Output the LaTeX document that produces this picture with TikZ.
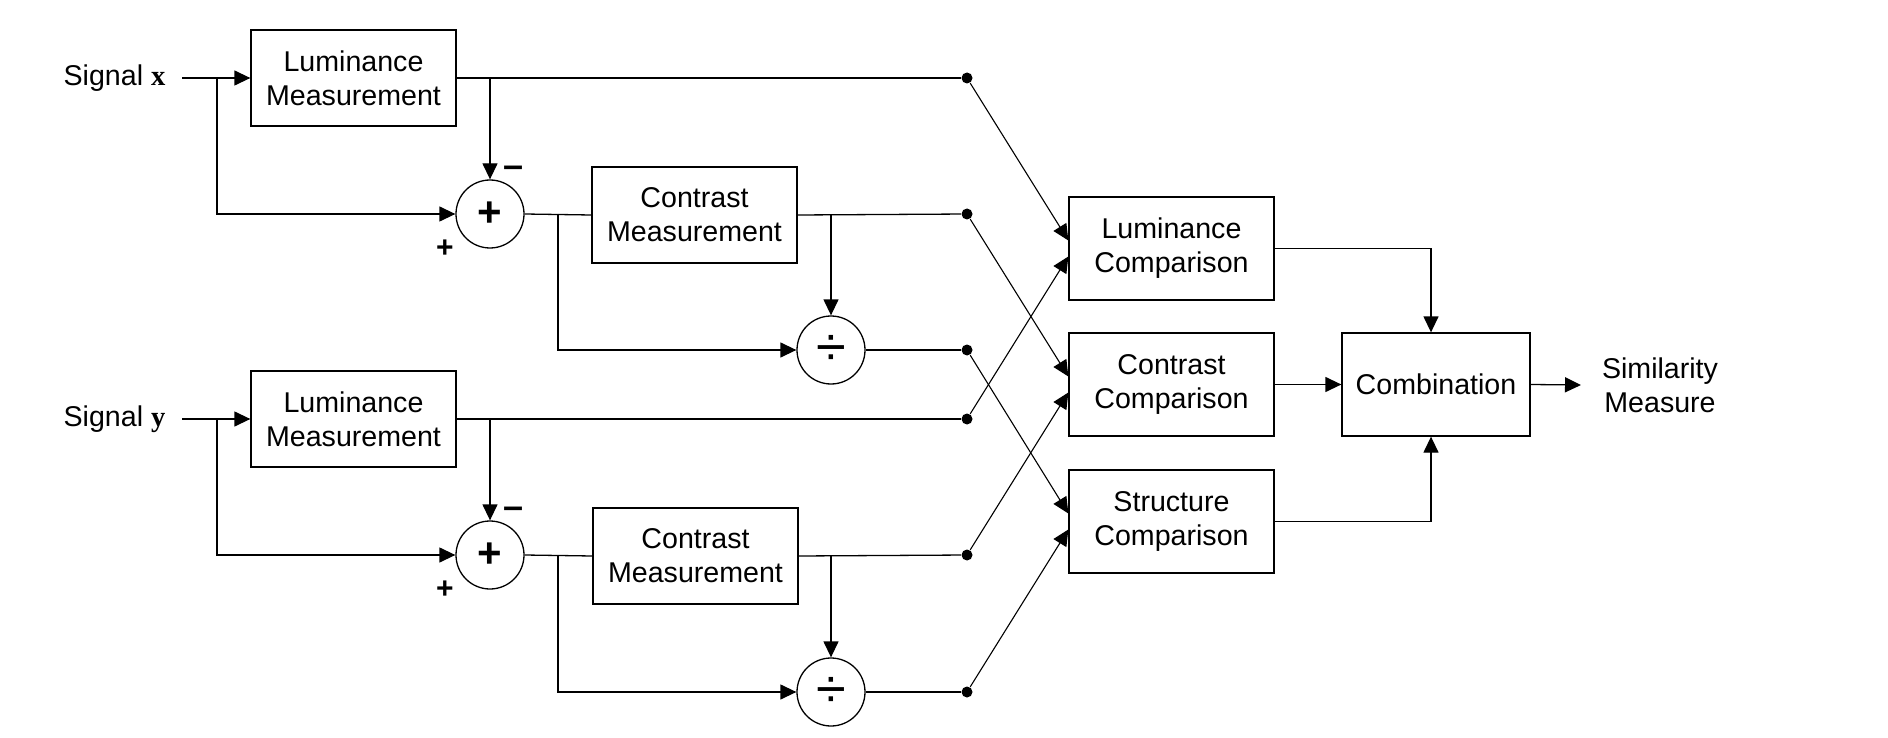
\documentclass[tikz,border=0pt]{standalone}
\usepackage{fontspec}
\setmainfont{Liberation Sans}
\newfontfamily\serifbold{Liberation Serif}[BoldFont={Liberation Serif Bold}]
\usetikzlibrary{arrows.meta,calc}
\begin{document}
\begin{tikzpicture}[x=1pt,y=-1pt,
  line width=1.3pt,
  >={Triangle[length=16pt 0 0,width=15pt 0 0]},
  blk/.style={draw,rectangle,minimum width=205pt,minimum height=96pt,inner sep=0pt,align=center,
    font=\fontsize{28.6}{34}\selectfont},
  cmp/.style={blk,minimum height=103pt},
  opc/.style={draw,circle,minimum size=68pt,inner sep=0pt},
  dotn/.style={circle,fill,minimum size=11pt,inner sep=0pt},
  lbl/.style={inner sep=0pt,outer xsep=17pt,font=\fontsize{28.6}{34}\selectfont},
  sgn/.style={inner sep=0pt,font=\fontsize{30}{30}\selectfont\bfseries},
  msgn/.style={inner sep=0pt,font=\fontsize{36}{36}\selectfont\bfseries},
  isum/.style={inner sep=0pt,font=\fontsize{42}{42}\selectfont\bfseries},
  idiv/.style={inner sep=0pt,font=\fontsize{54}{54}\selectfont},
]
\useasboundingbox (0,0) rectangle (1888,738);

% --- signal x branch ---
\node[lbl] (sx) at (114.5,78) {Signal {\serifbold\bfseries x}};
\node[blk] (lx) at (353.5,78) {Luminance\\Measurement};
\node[opc] (ax) at (490,214) {};
\node[isum] at (ax.center) {+};
\node[blk] (cx) at (694.5,215) {Contrast\\Measurement};
\node[opc] (dx) at (831,350) {};
\node[idiv] at (dx.center) {÷};
\node[msgn] (mx) at (514,172) {–};
\node[sgn] (px) at (445,249) {+};
\node[dotn] (dA) at (967,78) {};
\node[dotn] (dB) at (967,214) {};
\node[dotn] (dC) at (967,350) {};

% --- signal y branch ---
\node[lbl] (sy) at (114.5,419) {Signal {\serifbold\bfseries y}};
\node[blk] (ly) at (353.5,419) {Luminance\\Measurement};
\node[opc] (ay) at (490,555) {};
\node[isum] at (ay.center) {+};
\node[blk] (cy) at (695.5,556) {Contrast\\Measurement};
\node[opc] (dy) at (831,692) {};
\node[idiv] at (dy.center) {÷};
\node[msgn] (my) at (514,513) {–};
\node[sgn] (py) at (445,590) {+};
\node[dotn] (dD) at (967,419) {};
\node[dotn] (dE) at (967,555) {};
\node[dotn] (dF) at (967,692) {};

% --- comparisons ---
\node[cmp] (lc) at (1171.5,248.5) {Luminance\\Comparison};
\node[cmp] (cc) at (1171.5,384.5) {Contrast\\Comparison};
\node[cmp] (sc) at (1171.5,521.5) {Structure\\Comparison};
\node[cmp,minimum width=188pt] (cb) at (1436,384.5) {Combination};
\node[lbl,outer xsep=21pt,align=center] (sm) at (1660,385) {Similarity\\Measure};

% coordinates
\coordinate (bx) at (217,78);
\coordinate (by) at (217,419);
\coordinate (ox) at (558,214);
\coordinate (oy) at (558,555);

% --- x wiring ---
\draw[->] (sx.east) -- (lx.west);
\draw[->] (bx) |- (ax.west);
\draw (lx.east) -- (dA);
\draw[->] (lx.east -| ax.north) -- (ax.north);
\draw (ax.east) -- (cx.west);
\draw[->] (ox) |- (dx.west);
\draw (cx.east) -- (dB);
\draw[->] (cx.east -| dx.north) -- (dx.north);
\draw (dx.east) -- (dC);

% --- y wiring ---
\draw[->] (sy.east) -- (ly.west);
\draw[->] (by) |- (ay.west);
\draw (ly.east) -- (dD);
\draw[->] (ly.east -| ay.north) -- (ay.north);
\draw (ay.east) -- (cy.west);
\draw[->] (oy) |- (dy.west);
\draw (cy.east) -- (dE);
\draw[->] (cy.east -| dy.north) -- (dy.north);
\draw (dy.east) -- (dF);

% --- crossings ---
\draw[->,line width=1.1pt] (dA) -- ($(lc.west)+(0,-8)$);
\draw[->,line width=1.1pt] (dD) -- ($(lc.west)+(0,8)$);
\draw[->,line width=1.1pt] (dB) -- ($(cc.west)+(0,-8)$);
\draw[->,line width=1.1pt] (dE) -- ($(cc.west)+(0,8)$);
\draw[->,line width=1.1pt] (dC) -- ($(sc.west)+(0,-8)$);
\draw[->,line width=1.1pt] (dF) -- ($(sc.west)+(0,8)$);

% --- combination ---
\draw[->] (lc.east) -| ([xshift=-5pt]cb.north);
\draw[->] (cc.east) -- (cb.west);
\draw[->] (sc.east) -| ([xshift=-5pt]cb.south);
\draw[->] (cb.east) -- (sm.west);
\end{tikzpicture}
\end{document}
